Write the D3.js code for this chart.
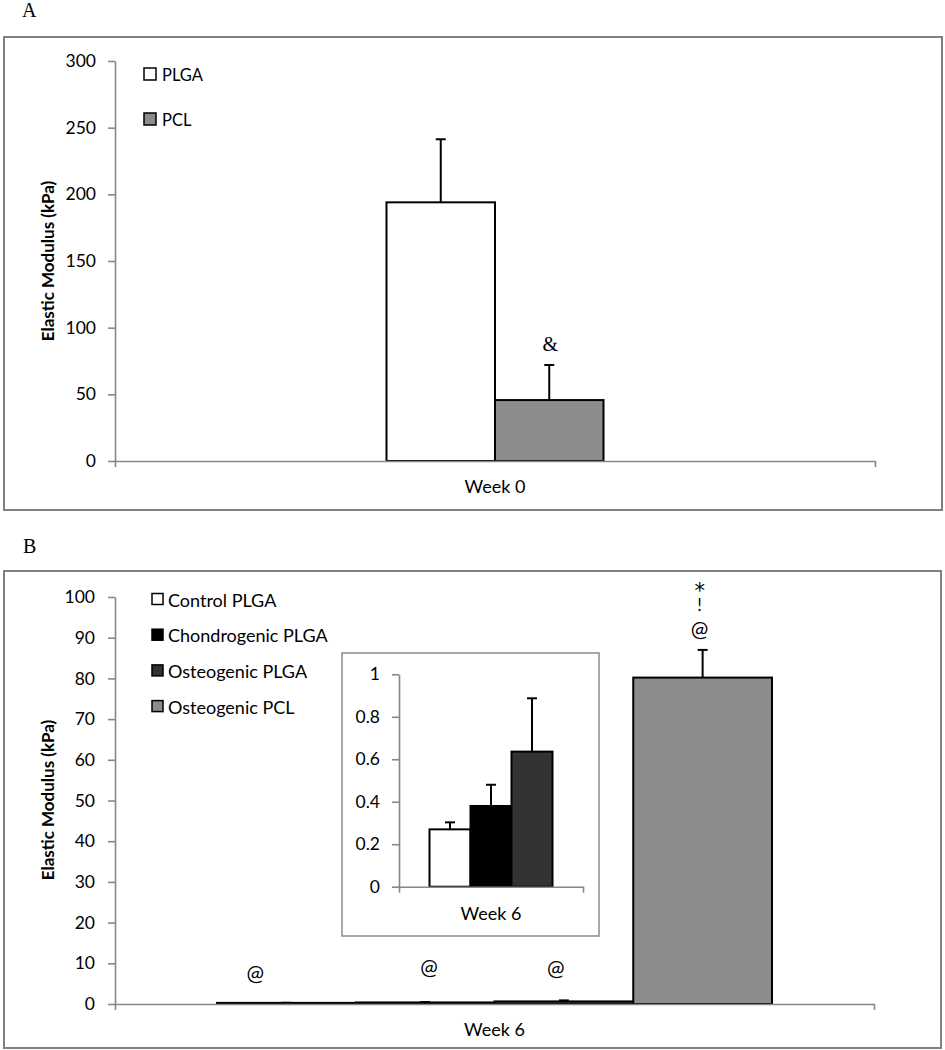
<!DOCTYPE html>
<html><head><meta charset="utf-8">
<script src="https://cdn.jsdelivr.net/npm/d3@7"></script>
<style>
body{margin:0;background:#fff}
svg{display:block}
text{font-family:Lato,"Open Sans",sans-serif;fill:#000}
</style>
</head><body>
<svg id="c" width="945" height="1050"></svg>
<script>
// ---------- DATA ----------
const categoriesA = ["Week 0"];
const seriesA = ["PLGA", "PCL"];
const valuesA = [194, 45.7];
const errorTopA = [241.3, 72];
const ticksA = [0, 50, 100, 150, 200, 250, 300];
const annotA = [[], ["&"]];

const categoriesB = ["Week 6"];
const seriesB = ["Control PLGA", "Chondrogenic PLGA", "Osteogenic PLGA", "Osteogenic PCL"];
const valuesB = [0.27, 0.38, 0.636, 80.2];
const errorTopB = [0.303, 0.48, 0.887, 87];
const ticksB = [0, 10, 20, 30, 40, 50, 60, 70, 80, 90, 100];
const annotB = [["@"], ["@"], ["@"], ["*", "!", "@"]];

const seriesInset = seriesB.slice(0, 3);
const valuesInset = valuesB.slice(0, 3);
const errorTopInset = errorTopB.slice(0, 3);
const ticksInset = [0, 0.2, 0.4, 0.6, 0.8, 1];
const tickLabelsInset = ["0", "0.2", "0.4", "0.6", "0.8", "1"];

const yTitle = "Elastic Modulus (kPa)";

// ---------- STYLE ----------
const colorsA = ["#ffffff", "#8c8c8c"];
const colorsB = ["#ffffff", "#000000", "#333333", "#8c8c8c"];
const axisGray = "#878787";

const svg = d3.select("#c");

function drawChart(cfg) {
  const g = svg.append("g");
  const y = d3.scaleLinear().domain(cfg.domain).range(cfg.yRange);
  const x0 = d3.scaleBand().domain(cfg.categories).range(cfg.xRange);
  const cat = cfg.categories[0];
  const c = x0(cat) + x0.bandwidth() / 2;
  const w = x0.bandwidth() * cfg.groupFrac;
  const x1 = d3.scaleBand().domain(cfg.series).range([c - w / 2, c + w / 2]);

  const ay = g.append("g")
    .attr("transform", `translate(${cfg.xRange[0]},0)`)
    .call(d3.axisLeft(y).tickValues(cfg.ticks)
      .tickFormat((d, i) => cfg.tickLabels ? cfg.tickLabels[i] : d)
      .tickSize(7).tickSizeOuter(0).tickPadding(cfg.tickPad || 12));
  ay.select(".domain").attr("stroke", axisGray).attr("stroke-width", 1.6);
  ay.selectAll(".tick line").attr("stroke", axisGray).attr("stroke-width", 1.6);
  ay.selectAll(".tick text").style("font-size", cfg.tickFont + "px").attr("fill", "#000");

  const data = cfg.series.map((s, i) => ({ s, v: cfg.values[i], e: cfg.errors[i], col: cfg.colors[i], ann: cfg.annot ? cfg.annot[i] : [] }));

  const eb = g.append("g").selectAll("g").data(data).join("g");
  eb.append("line")
    .attr("x1", d => x1(d.s) + x1.bandwidth() / 2)
    .attr("x2", d => x1(d.s) + x1.bandwidth() / 2)
    .attr("y1", d => y(d.v)).attr("y2", d => y(d.e))
    .attr("stroke", "#000").attr("stroke-width", 2);
  eb.append("line")
    .attr("x1", d => x1(d.s) + x1.bandwidth() / 2 - 5)
    .attr("x2", d => x1(d.s) + x1.bandwidth() / 2 + 5)
    .attr("y1", d => y(d.e)).attr("y2", d => y(d.e))
    .attr("stroke", "#000").attr("stroke-width", 2);

  g.append("g").selectAll("rect").data(data).join("rect")
    .attr("x", d => x1(d.s))
    .attr("width", x1.bandwidth())
    .attr("y", d => y(d.v))
    .attr("height", d => y(0) - y(d.v))
    .attr("fill", d => d.col)
    .attr("stroke", "#000").attr("stroke-width", 2);

  const ax = g.append("g")
    .attr("transform", `translate(0,${y(0)})`)
    .call(d3.axisBottom(x0).tickValues([]).tickSizeOuter(6));
  ax.select(".domain").attr("stroke", axisGray).attr("stroke-width", 1.6);

  g.append("text")
    .attr("x", c).attr("y", y(0) + cfg.catDy)
    .attr("text-anchor", "middle")
    .style("font-size", cfg.catFont + "px")
    .text(cat);

  return { g, x1, y, data };
}

// ---------- PANEL A ----------
svg.append("rect").attr("x", 4).attr("y", 37).attr("width", 938).attr("height", 473)
  .attr("fill", "none").attr("stroke", "#808080").attr("stroke-width", 2);
svg.append("text").attr("x", 22).attr("y", 17)
  .style("font-family", "'Liberation Serif','Times New Roman',serif").style("font-size", "20px").text("A");

const A = drawChart({
  domain: [0, 300], yRange: [461, 61], xRange: [115, 875],
  categories: categoriesA, series: seriesA, values: valuesA, errors: errorTopA,
  colors: colorsA, annot: annotA, groupFrac: 217 / 760, ticks: ticksA,
  tickFont: 17.5, catFont: 18, catDy: 32
});
A.data.forEach(d => d.ann.forEach(t => {
  A.g.append("text")
    .attr("x", A.x1(d.s) + A.x1.bandwidth() / 2 + 1)
    .attr("y", A.y(d.e) - 14)
    .attr("text-anchor", "middle")
    .style("font-family", "'Liberation Serif','Times New Roman',serif")
    .style("font-size", "20px").text(t);
}));

svg.append("text").attr("transform", "translate(47,261) rotate(-90)")
  .attr("text-anchor", "middle").attr("dominant-baseline", "central")
  .style("font-size", "17px").style("font-weight", "bold").text(yTitle);

const legA = svg.append("g").selectAll("g").data(seriesA).join("g")
  .attr("transform", (d, i) => `translate(144,${68 + i * 45})`);
legA.append("rect").attr("width", 12).attr("height", 12)
  .attr("fill", (d, i) => colorsA[i]).attr("stroke", "#000").attr("stroke-width", 1.5);
legA.append("text").attr("x", 18).attr("y", 6.5).attr("dominant-baseline", "central")
  .style("font-size", "16.5px").text(d => d);

// ---------- PANEL B ----------
svg.append("rect").attr("x", 4).attr("y", 571).attr("width", 937).attr("height", 477)
  .attr("fill", "none").attr("stroke", "#808080").attr("stroke-width", 2);
svg.append("text").attr("x", 23).attr("y", 553)
  .style("font-family", "'Liberation Serif','Times New Roman',serif").style("font-size", "20px").text("B");

const B = drawChart({
  domain: [0, 100], yRange: [1004, 597], xRange: [115, 874],
  categories: categoriesB, series: seriesB, values: valuesB, errors: errorTopB,
  colors: colorsB, annot: annotB, groupFrac: 555 / 759, ticks: ticksB,
  tickFont: 17.5, catFont: 18, catDy: 32, tickPad: 13
});
// annotation placement relative to each bar centre
const annDx = [-31, 4, -8, -3];
const annY = [[981], [975], [976], [598, 611, 637]];
const annSize = [[21], [21], [21], [21, 17, 21]];
const annFont = [["Lato"], ["Lato"], ["Lato"], ["DejaVu Sans", "Lato", "Lato"]];
B.data.forEach((d, i) => {
  const cx = B.x1(d.s) + B.x1.bandwidth() / 2 + annDx[i];
  const t = B.g.append("text").attr("text-anchor", "middle");
  d.ann.forEach((s, j) => {
    t.append("tspan").attr("x", cx).attr("y", annY[i][j])
      .style("font-family", annFont[i][j])
      .style("font-size", annSize[i][j] + "px").text(s);
  });
});

svg.append("text").attr("transform", "translate(47,800) rotate(-90)")
  .attr("text-anchor", "middle").attr("dominant-baseline", "central")
  .style("font-size", "17px").style("font-weight", "bold").text(yTitle);

const legB = svg.append("g").selectAll("g").data(seriesB).join("g")
  .attr("transform", (d, i) => `translate(152,${593.5 + i * 35.7})`);
legB.append("rect").attr("width", 11).attr("height", 11)
  .attr("fill", (d, i) => colorsB[i]).attr("stroke", "#000").attr("stroke-width", 1.5);
legB.append("text").attr("x", 16).attr("y", 6).attr("dominant-baseline", "central")
  .style("font-size", "18px").text(d => d);

// ---------- INSET ----------
svg.append("rect").attr("x", 342).attr("y", 653).attr("width", 257).attr("height", 283)
  .attr("fill", "#fff").attr("stroke", "#8a8a8a").attr("stroke-width", 1.5);
drawChart({
  domain: [0, 1], yRange: [886.7, 674.3], xRange: [399, 583],
  categories: categoriesB, series: seriesInset, values: valuesInset, errors: errorTopInset,
  colors: colorsB.slice(0, 3), groupFrac: 123 / 184, ticks: ticksInset, tickLabels: tickLabelsInset,
  tickFont: 17.5, catFont: 18, catDy: 33
});
</script>
</body></html>
